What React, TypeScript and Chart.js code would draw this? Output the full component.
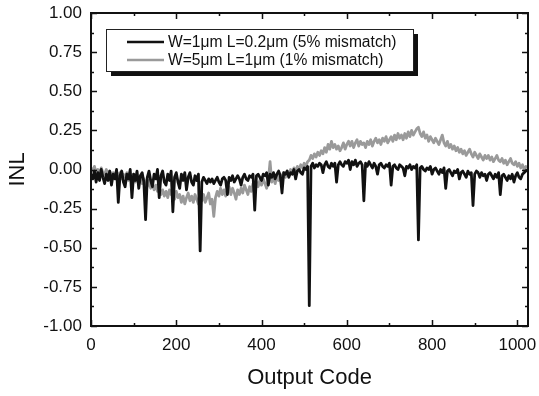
import React, { useEffect, useRef } from "react";
import { Chart, registerables } from "chart.js";

Chart.register(...registerables);

// INL samples, one value every CODE_STEP output codes, last entry is code 1023
const CODE_STEP = 4;
const LAST_CODE = 1023;

// W=1um L=0.2um (5% mismatch)
const INL_SMALL_DEVICE = [
  -0.03, -0.06, -0.01, -0.08, -0.02, -0.07, 0.00, -0.05,
  -0.09, -0.03, -0.07, -0.01, -0.10, -0.03, -0.06, 0.00,
  -0.21, -0.04, -0.01, -0.08, -0.11, -0.03, -0.06, 0.00,
  -0.18, -0.03, -0.07, -0.01, -0.12, -0.04, -0.02, -0.08,
  -0.32, -0.05, -0.01, -0.07, -0.11, -0.03, -0.06, 0.00,
  -0.18, -0.04, -0.01, -0.08, -0.10, -0.03, -0.07, -0.01,
  -0.27, -0.05, -0.02, -0.08, -0.12, -0.03, -0.07, -0.02,
  -0.13, -0.05, -0.02, -0.08, -0.10, -0.04, -0.07, -0.03,
  -0.52, -0.08, -0.05, -0.07, -0.09, -0.06, -0.08, -0.06,
  -0.09, -0.07, -0.05, -0.08, -0.10, -0.06, -0.05, -0.07,
  -0.16, -0.05, -0.07, -0.04, -0.08, -0.06, -0.04, -0.06,
  -0.10, -0.05, -0.03, -0.06, -0.07, -0.04, -0.05, -0.03,
  -0.26, -0.04, -0.03, -0.05, -0.07, -0.03, -0.04, -0.02,
  -0.10, -0.03, -0.05, -0.02, -0.06, -0.03, -0.01, -0.04,
  -0.15, -0.02, -0.03, -0.01, -0.05, -0.02, -0.03, 0.00,
  -0.06, -0.01, 0.00, -0.02, -0.03, 0.01, 0.00, 0.02,
  -0.87, 0.02, 0.04, 0.01, 0.03, 0.02, 0.04, 0.03,
  -0.02, 0.03, 0.05, 0.02, 0.01, 0.04, 0.02, 0.04,
  -0.08, 0.03, 0.05, 0.03, 0.02, 0.05, 0.04, 0.06,
  0.00, 0.05, 0.03, 0.06, 0.02, 0.04, 0.05, 0.03,
  -0.20, 0.04, 0.02, 0.05, 0.03, 0.01, 0.04, 0.02,
  -0.03, 0.03, 0.04, 0.02, 0.01, 0.03, 0.02, 0.04,
  -0.10, 0.02, 0.03, 0.01, 0.00, 0.03, 0.02, 0.01,
  -0.04, 0.02, 0.01, 0.03, 0.00, 0.02, 0.01, 0.03,
  -0.45, 0.01, 0.02, 0.00, -0.01, 0.01, 0.00, 0.02,
  -0.03, 0.00, 0.01, -0.01, -0.03, 0.00, -0.02, 0.01,
  -0.12, -0.01, 0.00, -0.02, -0.04, -0.01, -0.02, 0.00,
  -0.06, -0.02, -0.01, -0.03, -0.05, -0.01, -0.03, -0.02,
  -0.23, -0.03, -0.01, -0.02, -0.05, -0.02, -0.04, -0.03,
  -0.07, -0.03, -0.02, -0.04, -0.06, -0.03, -0.05, -0.02,
  -0.16, -0.04, -0.03, -0.05, -0.07, -0.04, -0.06, -0.03,
  -0.08, -0.04, -0.02, -0.05, -0.06, -0.03, -0.02, -0.01,
  0.00,
];

// W=5um L=1um (1% mismatch)
const INL_LARGE_DEVICE = [
  0.01, -0.01, 0.02, -0.02, 0.00, -0.03, 0.01, -0.02,
  -0.03, 0.00, -0.04, -0.01, -0.05, -0.02, -0.04, -0.01,
  -0.05, -0.02, -0.06, -0.03, -0.05, -0.02, -0.07, -0.04,
  -0.06, -0.03, -0.08, -0.05, -0.07, -0.04, -0.09, -0.06,
  -0.08, -0.11, -0.07, -0.12, -0.09, -0.13, -0.10, -0.14,
  -0.12, -0.16, -0.13, -0.17, -0.14, -0.18, -0.13, -0.16,
  -0.15, -0.19, -0.14, -0.18, -0.16, -0.21, -0.17, -0.22,
  -0.18, -0.15, -0.20, -0.17, -0.21, -0.16, -0.19, -0.22,
  -0.17, -0.20, -0.16, -0.21, -0.18, -0.15, -0.22, -0.19,
  -0.30, -0.18, -0.14, -0.17, -0.12, -0.16, -0.13, -0.17,
  -0.14, -0.11, -0.16, -0.12, -0.15, -0.19, -0.13, -0.16,
  -0.12, -0.15, -0.10, -0.13, -0.16, -0.11, -0.14, -0.09,
  -0.12, -0.08, -0.11, -0.07, -0.10, -0.06, -0.09, -0.12,
  -0.07, 0.05, -0.08, -0.05, -0.09, -0.04, -0.07, -0.03,
  -0.06, -0.02, -0.05, -0.01, -0.04, 0.00, -0.02, 0.01,
  -0.01, 0.02, 0.00, 0.03, 0.01, 0.04, 0.02, 0.05,
  0.06, 0.09, 0.07, 0.10, 0.08, 0.11, 0.09, 0.12,
  0.10, 0.14, 0.11, 0.16, 0.13, 0.18, 0.14, 0.16,
  0.13, 0.15, 0.12, 0.14, 0.17, 0.13, 0.16, 0.18,
  0.15, 0.18, 0.14, 0.17, 0.19, 0.15, 0.18, 0.16,
  0.17, 0.14, 0.18, 0.16, 0.19, 0.15, 0.18, 0.20,
  0.17, 0.19, 0.16, 0.20, 0.18, 0.21, 0.17, 0.19,
  0.21, 0.18, 0.22, 0.19, 0.23, 0.20, 0.22, 0.19,
  0.23, 0.20, 0.24, 0.21, 0.25, 0.22, 0.24, 0.26,
  0.27, 0.23, 0.21, 0.24, 0.20, 0.22, 0.18, 0.21,
  0.19, 0.17, 0.20, 0.18, 0.16, 0.19, 0.22, 0.17,
  0.15, 0.18, 0.14, 0.16, 0.13, 0.15, 0.12, 0.14,
  0.11, 0.13, 0.10, 0.12, 0.09, 0.11, 0.13, 0.10,
  0.08, 0.11, 0.09, 0.07, 0.10, 0.08, 0.06, 0.09,
  0.07, 0.09, 0.06, 0.08, 0.05, 0.07, 0.09, 0.06,
  0.05, 0.07, 0.04, 0.06, 0.03, 0.05, 0.07, 0.04,
  0.03, 0.05, 0.02, 0.04, 0.01, 0.03, 0.00, 0.02,
  0.01,
];

const SERIES_LABELS = [
  "W=1\u03bcm L=0.2\u03bcm (5% mismatch)",
  "W=5\u03bcm L=1\u03bcm (1% mismatch)",
];
const SERIES_COLORS = ["#111111", "#9a9a9a"];

const X_TICKS = [0, 200, 400, 600, 800, 1000];
const Y_TICKS = [-1, -0.75, -0.5, -0.25, 0, 0.25, 0.5, 0.75, 1];
const X_TITLE = "Output Code";
const Y_TITLE = "INL";

const codeAt = (i: number, n: number) => (i === n - 1 ? LAST_CODE : i * CODE_STEP);
const toPoints = (vals: number[]) => vals.map((y, i) => ({ x: codeAt(i, vals.length), y }));

const FONT = "'Liberation Sans', Arial, Helvetica, sans-serif";

// keep the plot box fixed: no extra room reserved for overhanging tick labels
const fixBox = (w: number | null, h: number | null) => (scale: any) => {
  if (w !== null) scale.width = w;
  if (h !== null) scale.height = h;
  scale.paddingLeft = 0;
  scale.paddingRight = 0;
  scale.paddingTop = 0;
  scale.paddingBottom = 0;
};

// Frame with inward major/minor ticks on all four sides, plus the boxed legend
const framePlugin = {
  id: "frameAndLegend",
  afterDraw(chart: any) {
    const { ctx, chartArea } = chart;
    const { left, right, top, bottom } = chartArea;
    const xs = chart.scales.x;
    const ys = chart.scales.y;
    ctx.save();
    ctx.strokeStyle = "#111";
    ctx.lineWidth = 2;
    ctx.strokeRect(left, top, right - left, bottom - top);

    ctx.lineWidth = 1.5;
    const major = 6;
    const minor = 3;
    const xMinor: number[] = [];
    for (let i = 0; i < X_TICKS.length - 1; i++) xMinor.push((X_TICKS[i] + X_TICKS[i + 1]) / 2);
    const yMinor: number[] = [];
    for (let i = 0; i < Y_TICKS.length - 1; i++) yMinor.push((Y_TICKS[i] + Y_TICKS[i + 1]) / 2);

    ctx.beginPath();
    const vTick = (v: number, len: number) => {
      const px = Math.round(xs.getPixelForValue(v)) + 0.5;
      ctx.moveTo(px, bottom);
      ctx.lineTo(px, bottom - len);
      ctx.moveTo(px, top);
      ctx.lineTo(px, top + len);
    };
    const hTick = (v: number, len: number) => {
      const py = Math.round(ys.getPixelForValue(v)) + 0.5;
      ctx.moveTo(left, py);
      ctx.lineTo(left + len, py);
      ctx.moveTo(right, py);
      ctx.lineTo(right - len, py);
    };
    X_TICKS.forEach((v) => vTick(v, major));
    xMinor.forEach((v) => vTick(v, minor));
    Y_TICKS.forEach((v) => hTick(v, major));
    yMinor.forEach((v) => hTick(v, minor));
    ctx.stroke();

    // legend box with drop shadow
    const bx = 106;
    const by = 29;
    const bw = 307;
    const bh = 42;
    ctx.fillStyle = "#111";
    ctx.fillRect(bx + 5, by + 5, bw, bh);
    ctx.fillStyle = "#fff";
    ctx.fillRect(bx, by, bw, bh);
    ctx.lineWidth = 1;
    ctx.strokeStyle = "#222";
    ctx.strokeRect(bx + 0.5, by + 0.5, bw, bh);

    ctx.font = `15.6px ${FONT}`;
    ctx.textBaseline = "middle";
    ctx.textAlign = "left";
    const rows = [by + 13, by + 31];
    SERIES_LABELS.forEach((label, i) => {
      ctx.strokeStyle = SERIES_COLORS[i];
      ctx.lineWidth = 2.5;
      ctx.beginPath();
      ctx.moveTo(127, rows[i]);
      ctx.lineTo(164, rows[i]);
      ctx.stroke();
      ctx.fillStyle = "#111";
      ctx.fillText(label, 168, rows[i] + 1);
    });
    ctx.restore();
  },
};

export default function App() {
  const canvasRef = useRef<HTMLCanvasElement | null>(null);

  useEffect(() => {
    document.body.style.margin = "0";
    const canvas = canvasRef.current;
    if (!canvas) return;

    const chart = new Chart(canvas, {
      type: "line",
      data: {
        datasets: [
          {
            label: SERIES_LABELS[0],
            data: toPoints(INL_SMALL_DEVICE),
            borderColor: SERIES_COLORS[0],
            borderWidth: 2.8,
            borderJoinStyle: "round",
            pointRadius: 0,
            tension: 0,
          },
          {
            label: SERIES_LABELS[1],
            data: toPoints(INL_LARGE_DEVICE),
            borderColor: SERIES_COLORS[1],
            borderWidth: 2.8,
            borderJoinStyle: "round",
            pointRadius: 0,
            tension: 0,
          },
        ],
      },
      options: {
        responsive: false,
        animation: false,
        events: [],
        layout: { padding: { top: 13, right: 11, left: 0, bottom: 0 } },
        plugins: {
          legend: { display: false },
          tooltip: { enabled: false },
        },
        scales: {
          x: {
            type: "linear",
            min: 0,
            max: 1025,
            grid: { display: false, drawTicks: false },
            border: { display: false },
            afterBuildTicks: (scale: any) => {
              scale.ticks = X_TICKS.map((value) => ({ value }));
            },
            afterFit: fixBox(null, 70),
            ticks: {
              padding: 9,
              color: "#111",
              maxRotation: 0,
              font: { family: FONT, size: 17 },
              callback: (v: any) => String(v),
            },
            title: {
              display: true,
              text: X_TITLE,
              color: "#111",
              font: { family: FONT, size: 22, lineHeight: 1.2 },
              padding: { top: 0, bottom: 5 },
            },
          },
          y: {
            type: "linear",
            min: -1,
            max: 1,
            grid: { display: false, drawTicks: false },
            border: { display: false },
            afterBuildTicks: (scale: any) => {
              scale.ticks = Y_TICKS.map((value) => ({ value }));
            },
            afterFit: fixBox(91, null),
            ticks: {
              padding: 9,
              color: "#111",
              font: { family: FONT, size: 17 },
              callback: (v: any) => Number(v).toFixed(2),
            },
            title: {
              display: true,
              text: Y_TITLE,
              color: "#111",
              font: { family: FONT, size: 22, lineHeight: 1.2 },
              padding: { top: 5, bottom: 0 },
            },
          },
        },
      },
      plugins: [framePlugin],
    });

    return () => chart.destroy();
  }, []);

  return <canvas ref={canvasRef} width={539} height={396} />;
}
